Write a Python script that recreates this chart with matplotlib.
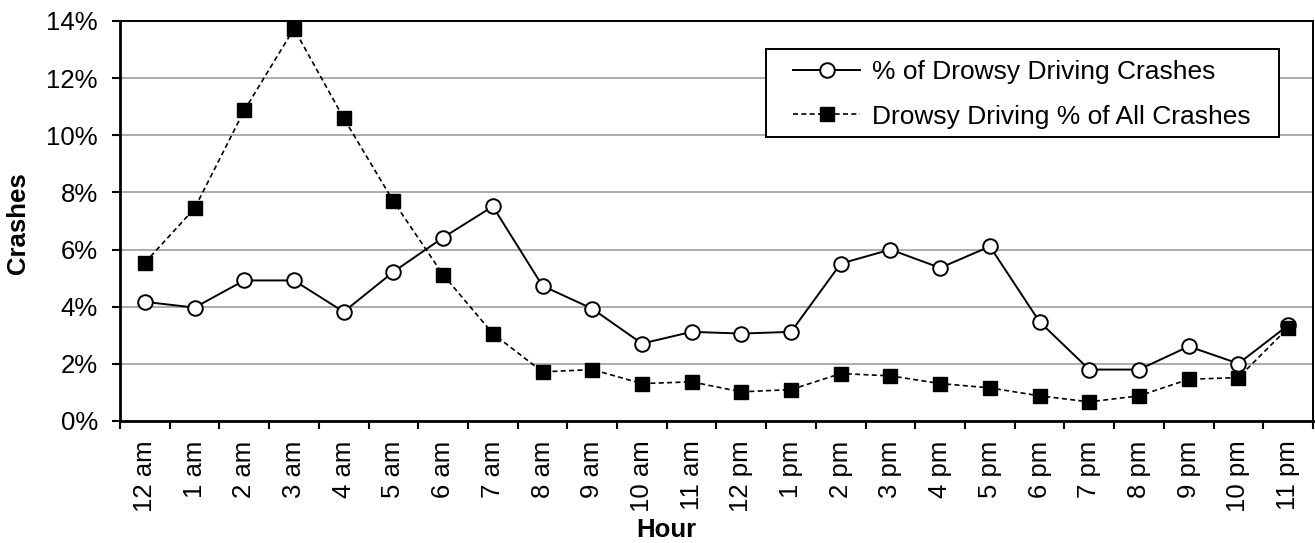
import matplotlib.pyplot as plt
from matplotlib.patches import Rectangle
from matplotlib.ticker import FixedLocator, PercentFormatter

plt.rcParams['font.family'] = ['Liberation Sans', 'DejaVu Sans']

W, H = 1315, 543

hours = ['12 am', '1 am', '2 am', '3 am', '4 am', '5 am', '6 am', '7 am',
         '8 am', '9 am', '10 am', '11 am', '12 pm', '1 pm', '2 pm', '3 pm',
         '4 pm', '5 pm', '6 pm', '7 pm', '8 pm', '9 pm', '10 pm', '11 pm']

# % of drowsy driving crashes occurring in each hour
pct_drowsy = [4.17, 3.97, 4.92, 4.92, 3.82, 5.22, 6.42, 7.51,
              4.73, 3.93, 2.71, 3.12, 3.06, 3.12, 5.51, 6.00,
              5.36, 6.11, 3.47, 1.80, 1.80, 2.61, 2.01, 3.35]

# drowsy driving as % of all crashes in each hour
pct_of_all = [5.54, 7.44, 10.87, 13.73, 10.60, 7.69, 5.12, 3.06,
              1.72, 1.80, 1.31, 1.37, 1.02, 1.10, 1.66, 1.58,
              1.31, 1.16, 0.88, 0.67, 0.88, 1.46, 1.52, 3.26]

fig = plt.figure(figsize=(W / 100, H / 100), dpi=100)
ax = fig.add_axes([120 / W, 122 / H, 1193 / W, 400 / H])

x = list(range(len(hours)))
ax.plot(x, pct_drowsy, color='black', lw=1.4, marker='o', ms=10.5,
        mfc='white', mec='black', mew=1.4, label='% of Drowsy Driving Crashes', zorder=3)
ax.plot(x, pct_of_all, color='black', lw=1.2, ls=(0, (3, 2)), marker='s', ms=10.5,
        mfc='black', mec='black', label='Drowsy Driving % of All Crashes', zorder=4)

ax.set_xlim(-0.5, len(hours) - 0.5)
ax.set_ylim(0, 14)
ax.set_yticks(range(0, 15, 2))
ax.yaxis.set_major_formatter(PercentFormatter(decimals=0))
ax.grid(axis='y', color='#969696', lw=1.1)
ax.set_axisbelow(True)

ax.xaxis.set_major_locator(FixedLocator([i - 0.5 for i in range(len(hours) + 1)]))
ax.xaxis.set_minor_locator(FixedLocator(x))
ax.set_xticklabels([])
ax.set_xticklabels(hours, minor=True, rotation=90)
ax.tick_params(axis='x', which='minor', length=0, pad=14, labelsize=18.5)
ax.tick_params(axis='x', which='major', length=6, width=1.5, direction='out')
ax.tick_params(axis='y', length=6, width=1.5, labelsize=18.5, pad=10)

for s in ['left', 'bottom']:
    ax.spines[s].set_linewidth(2.0)
for s in ['top', 'right']:
    ax.spines[s].set_linewidth(1.4)

fig.text(18 / W, 1 - 223 / H, 'Crashes', fontsize=18.5, fontweight='bold',
         rotation=90, ha='center', va='center')
fig.text(666 / W, 1 - 530 / H, 'Hour', fontsize=18.5, fontweight='bold',
         ha='center', va='center')

# legend box is drawn separately so its padding can match the original
ax.add_patch(Rectangle((766 / W, 1 - 137 / H), 513 / W, 88 / H,
                       transform=fig.transFigure, facecolor='white',
                       edgecolor='black', lw=1.4, zorder=5, clip_on=False))
leg = ax.legend(loc='upper left', bbox_to_anchor=(793 / W, 1 - 60 / H),
                bbox_transform=fig.transFigure, fontsize=19, frameon=False,
                handlelength=2.55, handletextpad=0.45, borderpad=0,
                borderaxespad=0, labelspacing=0.78)
leg.set_zorder(6)

fig.savefig('out.png', dpi=100)
